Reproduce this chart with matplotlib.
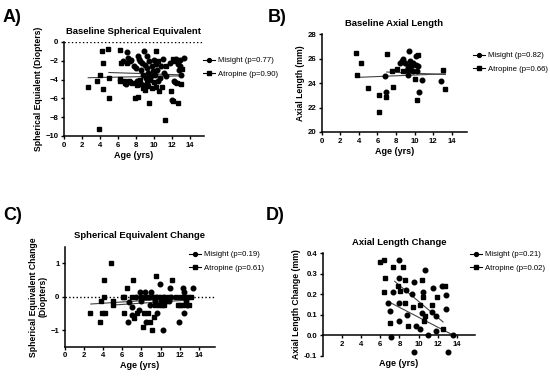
import numpy as np
import matplotlib
matplotlib.use("Agg")
import matplotlib.pyplot as plt
from matplotlib.lines import Line2D

plt.rcParams['font.family'] = ['Liberation Sans', 'DejaVu Sans']

# ---- A) baseline spherical equivalent ----
a_atro_age = [2.7, 3.7, 3.9, 4.0, 4.2, 4.3, 4.3, 4.9, 5.0, 5.0, 6.2, 6.3, 6.2, 6.2, 6.7, 6.8, 7.0, 7.2,
              7.4, 7.9, 8.1, 8.3, 8.5, 8.8, 9.0, 9.2, 9.4, 9.5, 9.8, 10.0, 10.3, 10.5, 10.6, 10.9,
              11.2, 11.4, 11.9, 12.1, 12.2, 12.4, 12.6, 12.7, 13.0, 13.2, 10.2, 9.0, 7.6]
a_atro_se = [-4.75, -4.2, -9.3, -3.5, -0.95, -2.2, -5.0, -0.75, -3.85, -6.0, -0.85, -2.2, -3.9, -4.1, -4.2,
             -4.4, -2.2, -4.2, -4.3, -6.0, -4.6, -5.9, -4.0, -4.9, -5.1, -4.2, -4.7, -6.5, -4.9, -4.3,
             -1.0, -2.0, -5.2, -4.8, -8.3, -2.6, -5.2, -6.3, -1.8, -2.0, -4.4, -6.5, -4.5, -2.9,
             -4.8, -4.6, -4.4]
a_mis_age = [6.6, 6.9, 7.0, 7.1, 7.3, 7.5, 7.8, 8.0, 8.2, 8.4, 8.5, 8.6, 8.6, 8.7, 8.8, 8.9, 9.0, 9.1,
             9.2, 9.3, 9.4, 9.5, 9.6, 9.7, 9.8, 9.9, 10.0, 10.1, 10.2, 10.4, 10.5, 10.7, 10.8, 11.0,
             11.1, 11.4, 11.8, 12.0, 12.3, 12.5, 12.7, 12.8, 12.9, 13.0, 13.4, 12.9, 12.4, 8.1]
a_mis_se = [-2.0, -4.5, -1.1, -1.7, -2.0, -1.9, -2.6, -2.8, -1.5, -1.8, -2.0, -3.0, -4.5, -2.2, -3.5,
            -1.0, -2.4, -3.8, -2.8, -1.5, -3.3, -2.0, -4.0, -3.6, -2.6, -3.1, -1.9, -3.5, -2.3, -3.0,
            -4.1, -3.8, -2.5, -1.8, -3.3, -3.6, -2.2, -6.2, -4.2, -1.8, -2.3, -3.0, -2.6, -3.5,
            -1.7, -1.9, -4.3, -4.2]
a_labels = ['Misight (p=0.77)', 'Atropine (p=0.90)']
a_fit_mis = (-0.031, -3.09, 5.0, 13.0)     # slope, intercept, age from, age to
a_fit_atro = (0.019, -3.85, 2.7, 13.2)

# ---- B) baseline axial length ----
b_atro_age = [3.66, 3.84, 4.2, 4.95, 6.2, 6.17, 6.93, 7.03, 7.6, 8.15, 8.7, 10.05, 10.23, 10.34,
              13.0, 13.3, 7.7]
b_atro_al = [26.45, 24.65, 25.63, 23.6, 23.05, 21.6, 22.83, 26.37, 25.0, 25.17, 25.0, 24.33, 22.64,
             26.3, 25.08, 23.5, 23.67]
b_mis_age = [6.8, 6.93, 8.4, 8.6, 8.8, 8.97, 9.15, 9.26, 9.44, 9.3, 9.5, 9.6, 9.7, 9.8, 9.87,
             10.1, 10.15, 10.3, 10.4, 10.45, 10.77, 12.85]
b_mis_al = [24.55, 23.26, 25.63, 25.77, 25.96, 25.63, 25.1, 24.68, 26.6, 25.36, 25.77, 25.1, 25.5,
            24.95, 25.63, 26.23, 25.5, 24.95, 25.36, 23.3, 24.27, 24.18]
b_labels = ['Misight (p=0.82)', 'Atropine (p=0.66)']
b_fit_mis = (-0.032, 25.12, 7.0, 13.3)
b_fit_atro = (0.031, 24.34, 3.7, 13.3)

# ---- C) spherical equivalent change ----
c_atro_age = [2.65, 3.7, 3.8, 4.1, 4.1, 3.9, 4.2, 4.85, 5.0, 5.0, 6.05, 6.2, 6.5, 6.2, 7.0, 7.1,
              7.2, 7.5, 8.0, 8.15, 8.25, 8.5, 8.7, 8.85, 9.1, 9.3, 9.45, 9.5, 9.7, 9.8, 10.0, 10.15,
              10.4, 10.75, 11.2, 11.6, 11.8, 12.0, 12.15, 12.35, 12.6, 12.85, 13.0, 13.2]
c_atro_ch = [-0.5, -0.75, -0.13, 0.5, 0.0, -0.5, -0.5, 1.0, -0.13, -0.25, 0.0, 0.0, 0.25, -0.5, 0.0,
             0.5, -0.65, -0.5, 0.0, -0.9, -0.5, 0.0, -0.5, -0.75, -1.0, -0.6, -0.25, 0.62, 0.0, -0.25,
             0.0, -0.25, -0.25, 0.0, 0.5, 0.0, -0.25, -0.25, 0.0, -0.25, 0.0, 0.0, -0.25, 0.0]
c_mis_age = [6.6, 6.75, 7.0, 7.0, 7.4, 7.7, 7.8, 8.0, 8.4, 8.5, 8.8, 8.9, 9.0, 9.2, 9.4, 9.55, 9.6,
             9.9, 10.05, 10.25, 10.35, 10.6, 10.9, 10.95, 11.1, 11.9, 12.3, 12.45, 12.5, 12.7,
             12.75, 13.4]
c_mis_ch = [-0.75, -0.15, -0.3, -0.55, 0.0, -0.4, 0.13, -0.13, 0.13, -0.75, 0.0, -0.25, 0.13, 0.0,
            -0.13, 0.0, -0.5, 0.37, -0.13, -1.0, 0.0, -0.13, -0.13, 0.25, 0.0, -0.75, 0.25, -0.5,
            0.13, -0.13, -0.25, 0.25]
c_labels = ['Misight (p=0.19)', 'Atropine (p=0.61)']
c_fit_mis = (0.019, -0.346, 5.0, 12.8)
c_fit_atro = (0.0187, -0.27, 2.7, 13.4)

# ---- D) axial length change ----
d_atro_age = [6.0, 6.41, 6.48, 6.41, 7.0, 7.28, 7.8, 8.03, 8.4, 8.55, 8.6, 8.93, 9.45, 10.17, 10.4,
              10.5, 10.6, 10.7, 11.4, 11.93, 12.55, 12.8]
d_atro_al = [0.356, 0.368, 0.279, 0.209, 0.06, 0.33, 0.238, 0.214, 0.33, 0.157, 0.27, 0.044, 0.14,
             0.149, 0.27, 0.186, 0.071, 0.092, 0.149, 0.185, 0.03, 0.24]
d_mis_age = [6.76, 7.0, 7.1, 7.34, 7.9, 7.97, 7.97, 7.97, 8.66, 8.83, 9.34, 9.52, 9.52, 9.69, 10.1,
             10.35, 10.5, 10.65, 10.97, 11.4, 11.5, 11.86, 11.86, 12.45, 12.9, 12.9, 13.1, 13.6]
d_mis_al = [0.157, 0.12, -0.01, 0.209, 0.368, 0.279, 0.157, 0.071, 0.219, 0.097, 0.2, 0.257, -0.08,
            0.047, 0.03, 0.11, 0.209, 0.319, 0.0, 0.113, 0.23, 0.092, 0.02, 0.238, 0.194, 0.13,
            -0.08, 0.0]
d_labels = ['Misight (p=0.21)', 'Atropine (p=0.02)']
d_fit_mis = (-0.024, 0.328, 6.9, 13.65)
d_fit_atro = (-0.039, 0.555, 7.5, 12.55)

fig = plt.figure(figsize=(5.5, 3.77), dpi=100)
W, H = 550.0, 377.0


def fig_ax(x0, y0, x1, y1):
    return fig.add_axes([x0 / W, 1 - y1 / H, (x1 - x0) / W, (y1 - y0) / H])


def fit_line(ax, fit):
    m, b, xa, xb = fit
    xs = np.array([xa, xb])
    ax.plot(xs, m * xs + b, color='#444444', lw=0.8, zorder=3)


def style(ax, title, ylabel, labels, leg_xy):
    for s in ['top', 'right']:
        ax.spines[s].set_visible(False)
    for s in ['left', 'bottom']:
        ax.spines[s].set_linewidth(1.1)
    ax.tick_params(direction='out', length=2.5, width=1.0, labelsize=5.6, pad=1.5)
    for t in ax.get_xticklabels() + ax.get_yticklabels():
        t.set_fontweight('bold')
    ax.set_title(title, fontsize=6.8, fontweight='bold', pad=6)
    ax.set_xlabel('Age (yrs)', fontsize=6.5, fontweight='bold', labelpad=1.5)
    ax.set_ylabel(ylabel, fontsize=6.2, fontweight='bold', labelpad=2)
    handles = [Line2D([], [], color='black', marker='o', ms=2.8, lw=0.8),
               Line2D([], [], color='black', marker='s', ms=2.8, lw=0.8)]
    ax.legend(handles, labels, loc='upper left', bbox_to_anchor=(leg_xy[0] / W, 1 - leg_xy[1] / H),
              bbox_transform=fig.transFigure, frameon=False, fontsize=5.6, handlelength=1.5,
              handletextpad=0.5, labelspacing=0.75, borderpad=0)


def scatter(ax, xm, ym, xa, ya):
    ax.plot(xm, ym, 'o', color='black', ms=3.3, zorder=4, clip_on=False)
    ax.plot(xa, ya, 's', color='black', ms=3.1, zorder=4, clip_on=False)


# A
ax = fig_ax(64, 42, 204, 136)
scatter(ax, a_mis_age, a_mis_se, a_atro_age, a_atro_se)
fit_line(ax, a_fit_mis)
fit_line(ax, a_fit_atro)
ax.axhline(0, color='black', ls=':', lw=1.0)
ax.set_xlim(0, 15.6)
ax.set_ylim(-10, 0)
ax.set_xticks(range(0, 15, 2))
ax.set_yticks(range(-10, 1, 2))
style(ax, 'Baseline Spherical Equivalent', 'Spherical Equialent (Diopters)', a_labels, (199, 53))

# B
ax = fig_ax(321.7, 34, 466.7, 132)
scatter(ax, b_mis_age, b_mis_al, b_atro_age, b_atro_al)
fit_line(ax, b_fit_mis)
fit_line(ax, b_fit_atro)
ax.set_xlim(0, 15.6)
ax.set_ylim(20, 28)
ax.set_xticks(range(0, 15, 2))
ax.set_yticks(range(20, 29, 2))
style(ax, 'Baseline Axial Length', 'Axial Length (mm)', b_labels, (469, 48))

# C
ax = fig_ax(65, 246.7, 215, 346.7)
scatter(ax, c_mis_age, c_mis_ch, c_atro_age, c_atro_ch)
fit_line(ax, c_fit_mis)
fit_line(ax, c_fit_atro)
ax.axhline(0, color='black', ls=':', lw=1.0)
ax.set_xlim(0, 15.7)
ax.set_ylim(-1.5, 1.5)
ax.set_xticks(range(0, 15, 2))
ax.set_yticks([-1, 0, 1])
style(ax, 'Spherical Equivalent Change', 'Spherical Equivalent Change\n(Diopters)', c_labels, (185, 247))

# D
ax = fig_ax(323, 253, 475, 356)
scatter(ax, d_mis_age, d_mis_al, d_atro_age, d_atro_al)
fit_line(ax, d_fit_mis)
fit_line(ax, d_fit_atro)
ax.set_xlim(0, 15.9)
ax.set_ylim(-0.1, 0.4)
ax.set_xticks(range(2, 15, 2))
ax.set_yticks([-0.1, 0.0, 0.1, 0.2, 0.3, 0.4])
ax.set_yticklabels(['-0.1', '0.0', '0.1', '0.2', '0.3', '0.4'])
ax.spines['bottom'].set_position(('data', 0))
style(ax, 'Axial Length Change', 'Axial Length Change (mm)', d_labels, (466, 247))
ax.xaxis.set_label_coords(0.5, -0.03)

# panel letters
for lbl, x, y in [('A)', 3, 18), ('B)', 268, 18), ('C)', 3, 215), ('D)', 266, 215)]:
    fig.text(x / W, 1 - y / H, lbl, fontsize=13, fontweight='bold', va='center', ha='left')

fig.savefig('out.png', dpi=100)
